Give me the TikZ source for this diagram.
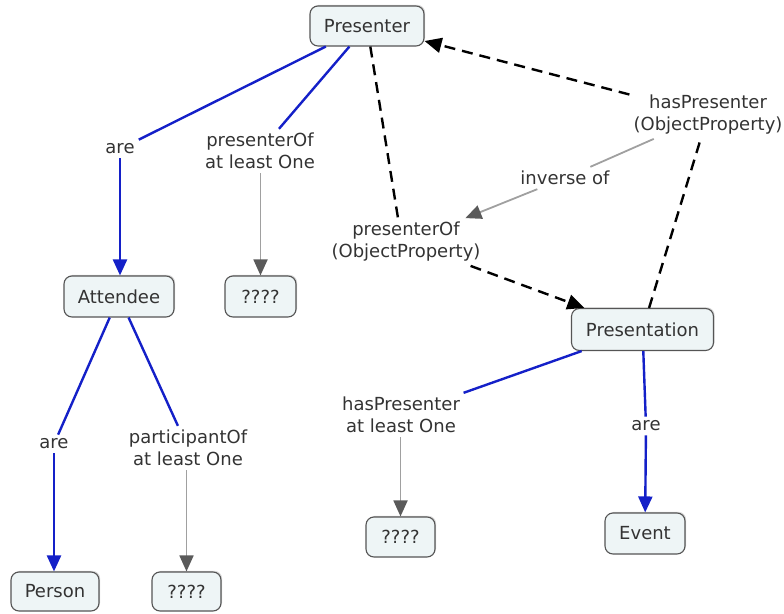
\documentclass[tikz,border=0pt]{standalone}
\usepackage{fontspec}
\setmainfont{DejaVu Sans}
\usetikzlibrary{arrows.meta,shadows}
\definecolor{boxfill}{HTML}{EEF5F6}
\definecolor{boxline}{HTML}{555555}
\definecolor{txt}{HTML}{333333}
\definecolor{linkblue}{HTML}{1420C8}
\definecolor{linkgray}{HTML}{A0A0A0}
\definecolor{headgray}{HTML}{5A5A5A}
\tikzset{
  concept/.style={draw=boxline, line width=1.1pt, fill=boxfill, rounded corners=8pt,
    minimum height=40pt, inner xsep=12pt, text=txt, font=\fontsize{18}{22}\selectfont,
    drop shadow={shadow xshift=1.2pt, shadow yshift=1.2pt, fill=black!25, opacity=0.6}},
  linklabel/.style={align=center, text=txt, inner sep=4pt, font=\fontsize{18}{22}\selectfont},
  bluelink/.style={draw=linkblue, line width=2.4pt},
  bluearrow/.style={bluelink, -{Triangle[length=16pt,width=14pt]}},
  graylink/.style={draw=linkgray, line width=1.8pt},
  grayarrow/.style={graylink, -{Triangle[length=16pt,width=14pt,fill=headgray,color=headgray]}},
  dashlink/.style={draw=black, line width=2.4pt, dash pattern=on 11pt off 7pt},
  dasharrow/.style={dashlink, -{Triangle[length=17pt,width=15pt]}},
}
\begin{document}
\begin{tikzpicture}[x=1pt,y=-1pt]
\useasboundingbox (0,0) rectangle (784,613);
% concepts
\node[concept, minimum width=114pt] (pres) at (367,26) {Presenter};
\node[concept, minimum width=110pt, minimum height=41pt] (att) at (119,296.5) {Attendee};
\node[concept, minimum width=71pt, minimum height=41pt] (q1) at (260.5,296.5) {????};
\node[concept, minimum width=88pt, minimum height=39pt] (person) at (55,591.5) {Person};
\node[concept, minimum width=69pt, minimum height=39pt] (q2) at (186.5,591.5) {????};
\node[concept, minimum width=69pt] (q3) at (400.5,537) {????};
\node[concept, minimum width=80pt, minimum height=41pt] (event) at (645,533.5) {Event};
\node[concept, minimum width=142pt, minimum height=42pt] (presn) at (642.5,329.5) {Presentation};
% link labels
\node[linklabel] (are1) at (120,149) {are};
\node[linklabel] (pof1) at (260,151) {presenterOf\\at least One};
\node[linklabel] (poop) at (406,242) {presenterOf\\(ObjectProperty)};
\node[linklabel] (hpop) at (708,115) {hasPresenter\\(ObjectProperty)};
\node[linklabel] (inv) at (565,178) {inverse of};
\node[linklabel] (are2) at (54,444) {are};
\node[linklabel] (part) at (188,448) {participantOf\\at least One};
\node[linklabel] (hp1) at (401,415) {hasPresenter\\at least One};
\node[linklabel] (are3) at (646,426) {are};
% connectors
\draw[bluelink] (pres) -- (are1);
\draw[bluearrow] (are1) -- (are1 |- att.north);
\draw[bluelink] (pres) -- (pof1);
\draw[grayarrow] (pof1.south -| q1.north) -- (q1.north);
\draw[dashlink] (pres) -- ([xshift=-8pt]poop.north);
\draw[dasharrow] (poop) -- (presn);
\draw[dasharrow] (hpop) -- (pres);
\draw[dashlink] (presn) -- (hpop);
\draw[graylink] (hpop) -- (inv);
\draw[grayarrow] (inv) -- (poop);
\draw[bluelink] (att) -- (are2);
\draw[bluearrow] (are2) -- (are2 |- person.north);
\draw[bluelink] (att) -- (part);
\draw[grayarrow] (part.south -| q2.north) -- (q2.north);
\draw[bluelink] (presn) -- (hp1);
\draw[grayarrow] (hp1.south -| q3.north) -- (q3.north);
\draw[bluelink] (presn) -- (are3);
\draw[bluearrow] (are3) -- (event);
\end{tikzpicture}
\end{document}
